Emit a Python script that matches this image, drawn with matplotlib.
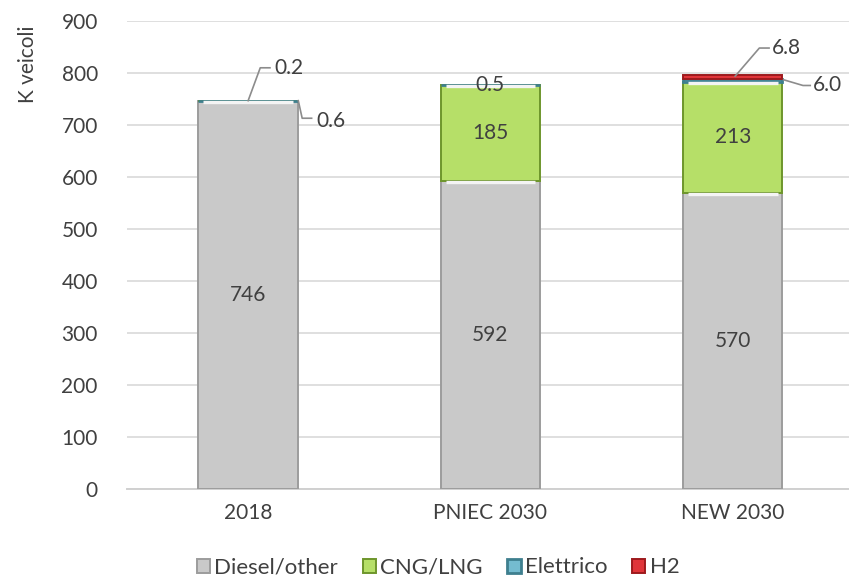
import matplotlib.pyplot as plt
import numpy as np

plt.rcParams['font.family'] = ['Lato', 'DejaVu Sans']

# --- data
scenari = ["2018", "PNIEC 2030", "NEW 2030"]
diesel = [746, 592, 570]
cng = [0.6, 185, 213]
elettrico = [0.2, 0.5, 6.0]
h2 = [0.0, 0.0, 6.8]
y_ticks = [0, 100, 200, 300, 400, 500, 600, 700, 800, 900]

txt = "#404040"
fs = 15
fig = plt.figure(figsize=(8.49, 5.8), dpi=100)
ax = fig.add_axes([127 / 849, 91 / 580, 722 / 849, 468 / 580])

x = np.arange(len(scenari))
w = 0.41
series = [
    ("Diesel/other", diesel, "#c9c9c9", "#9c9c9c", 1.4),
    ("CNG/LNG", cng, "#b6df68", "#6e962c", 1.4),
    ("Elettrico", elettrico, "#74bcd0", "#3e7f8e", 2.0),
    ("H2", h2, "#e0353a", "#9e1a1d", 1.4),
]
bottom = np.zeros(len(scenari))
for name, vals, fc, ec, lw in series:
    vals = np.array(vals, dtype=float)
    nz = vals > 0
    ax.bar(x[nz], vals[nz], w, bottom=bottom[nz], color=fc, edgecolor=ec,
           linewidth=lw, label=name, zorder=3)
    # bevel highlight at the top of the bigger segments
    big = vals > 50
    ax.hlines((bottom + vals - 2.5)[big], (x - w / 2 + 0.02)[big], (x + w / 2 - 0.02)[big],
              colors="#f4f4f4", linewidth=2.4, zorder=4)
    bottom += vals

# labels inside segments
for i in range(len(scenari)):
    ax.text(x[i], diesel[i] / 2, f"{diesel[i]}", ha="center", va="center",
            fontsize=fs, color=txt, zorder=5)
for i in (1, 2):
    ax.text(x[i], diesel[i] + cng[i] / 2, f"{cng[i]}", ha="center", va="center",
            fontsize=fs, color=txt, zorder=5)

# small labels with leader lines
lc = "#8c8c8c"
def leader(pts, label, tx, ty):
    px, py = zip(*pts)
    ax.plot(px, py, color=lc, lw=1.2, zorder=5, clip_on=False)
    ax.text(tx, ty, label, ha="left", va="center", fontsize=fs, color=txt, zorder=5)

top18 = diesel[0] + cng[0] + elettrico[0]
leader([(0.0, top18), (0.05, 810), (0.09, 810)], f"{elettrico[0]}", 0.11, 810)
leader([(0.207, top18), (0.223, 713), (0.262, 713)], f"{cng[0]}", 0.28, 708)
top_p = diesel[1] + cng[1] + elettrico[1]
ax.text(x[1], top_p - 1, f"{elettrico[1]}", ha="center", va="center",
        fontsize=fs, color=txt, zorder=5)
top_n = diesel[2] + cng[2] + elettrico[2] + h2[2]
leader([(2.01, top_n - 2), (2.11, 848), (2.15, 848)], f"{h2[2]}", 2.16, 848)
leader([(2.21, diesel[2] + cng[2] + elettrico[2] - 2), (2.29, 776), (2.32, 776)],
       f"{elettrico[2]:.1f}", 2.33, 776)

ax.set_xlim(-0.5, 2.48)
ax.set_ylim(0, 900)
ax.set_yticks(y_ticks)
ax.set_xticks(x)
ax.set_xticklabels(scenari)
ax.tick_params(axis="both", length=0, labelsize=fs, labelcolor=txt)
ax.tick_params(axis="y", pad=21)
ax.tick_params(axis="x", pad=10)
ax.grid(axis="y", color="#d9d9d9", lw=1.2, zorder=0)
for s in ("top", "right", "left"):
    ax.spines[s].set_visible(False)
ax.spines["bottom"].set_color("#d0d0d0")
ax.spines["bottom"].set_linewidth(1.4)
ax.set_ylabel("K veicoli", fontsize=fs, color=txt)
ax.yaxis.set_label_coords(-0.123, 0.908)

fig.legend(loc="lower center", bbox_to_anchor=(0.516, -0.03), ncol=4, frameon=False,
           fontsize=16, labelcolor=txt, handlelength=0.6, handleheight=0.6,
           handletextpad=0.2, columnspacing=1.1)

fig.savefig("out.png", dpi=100)
